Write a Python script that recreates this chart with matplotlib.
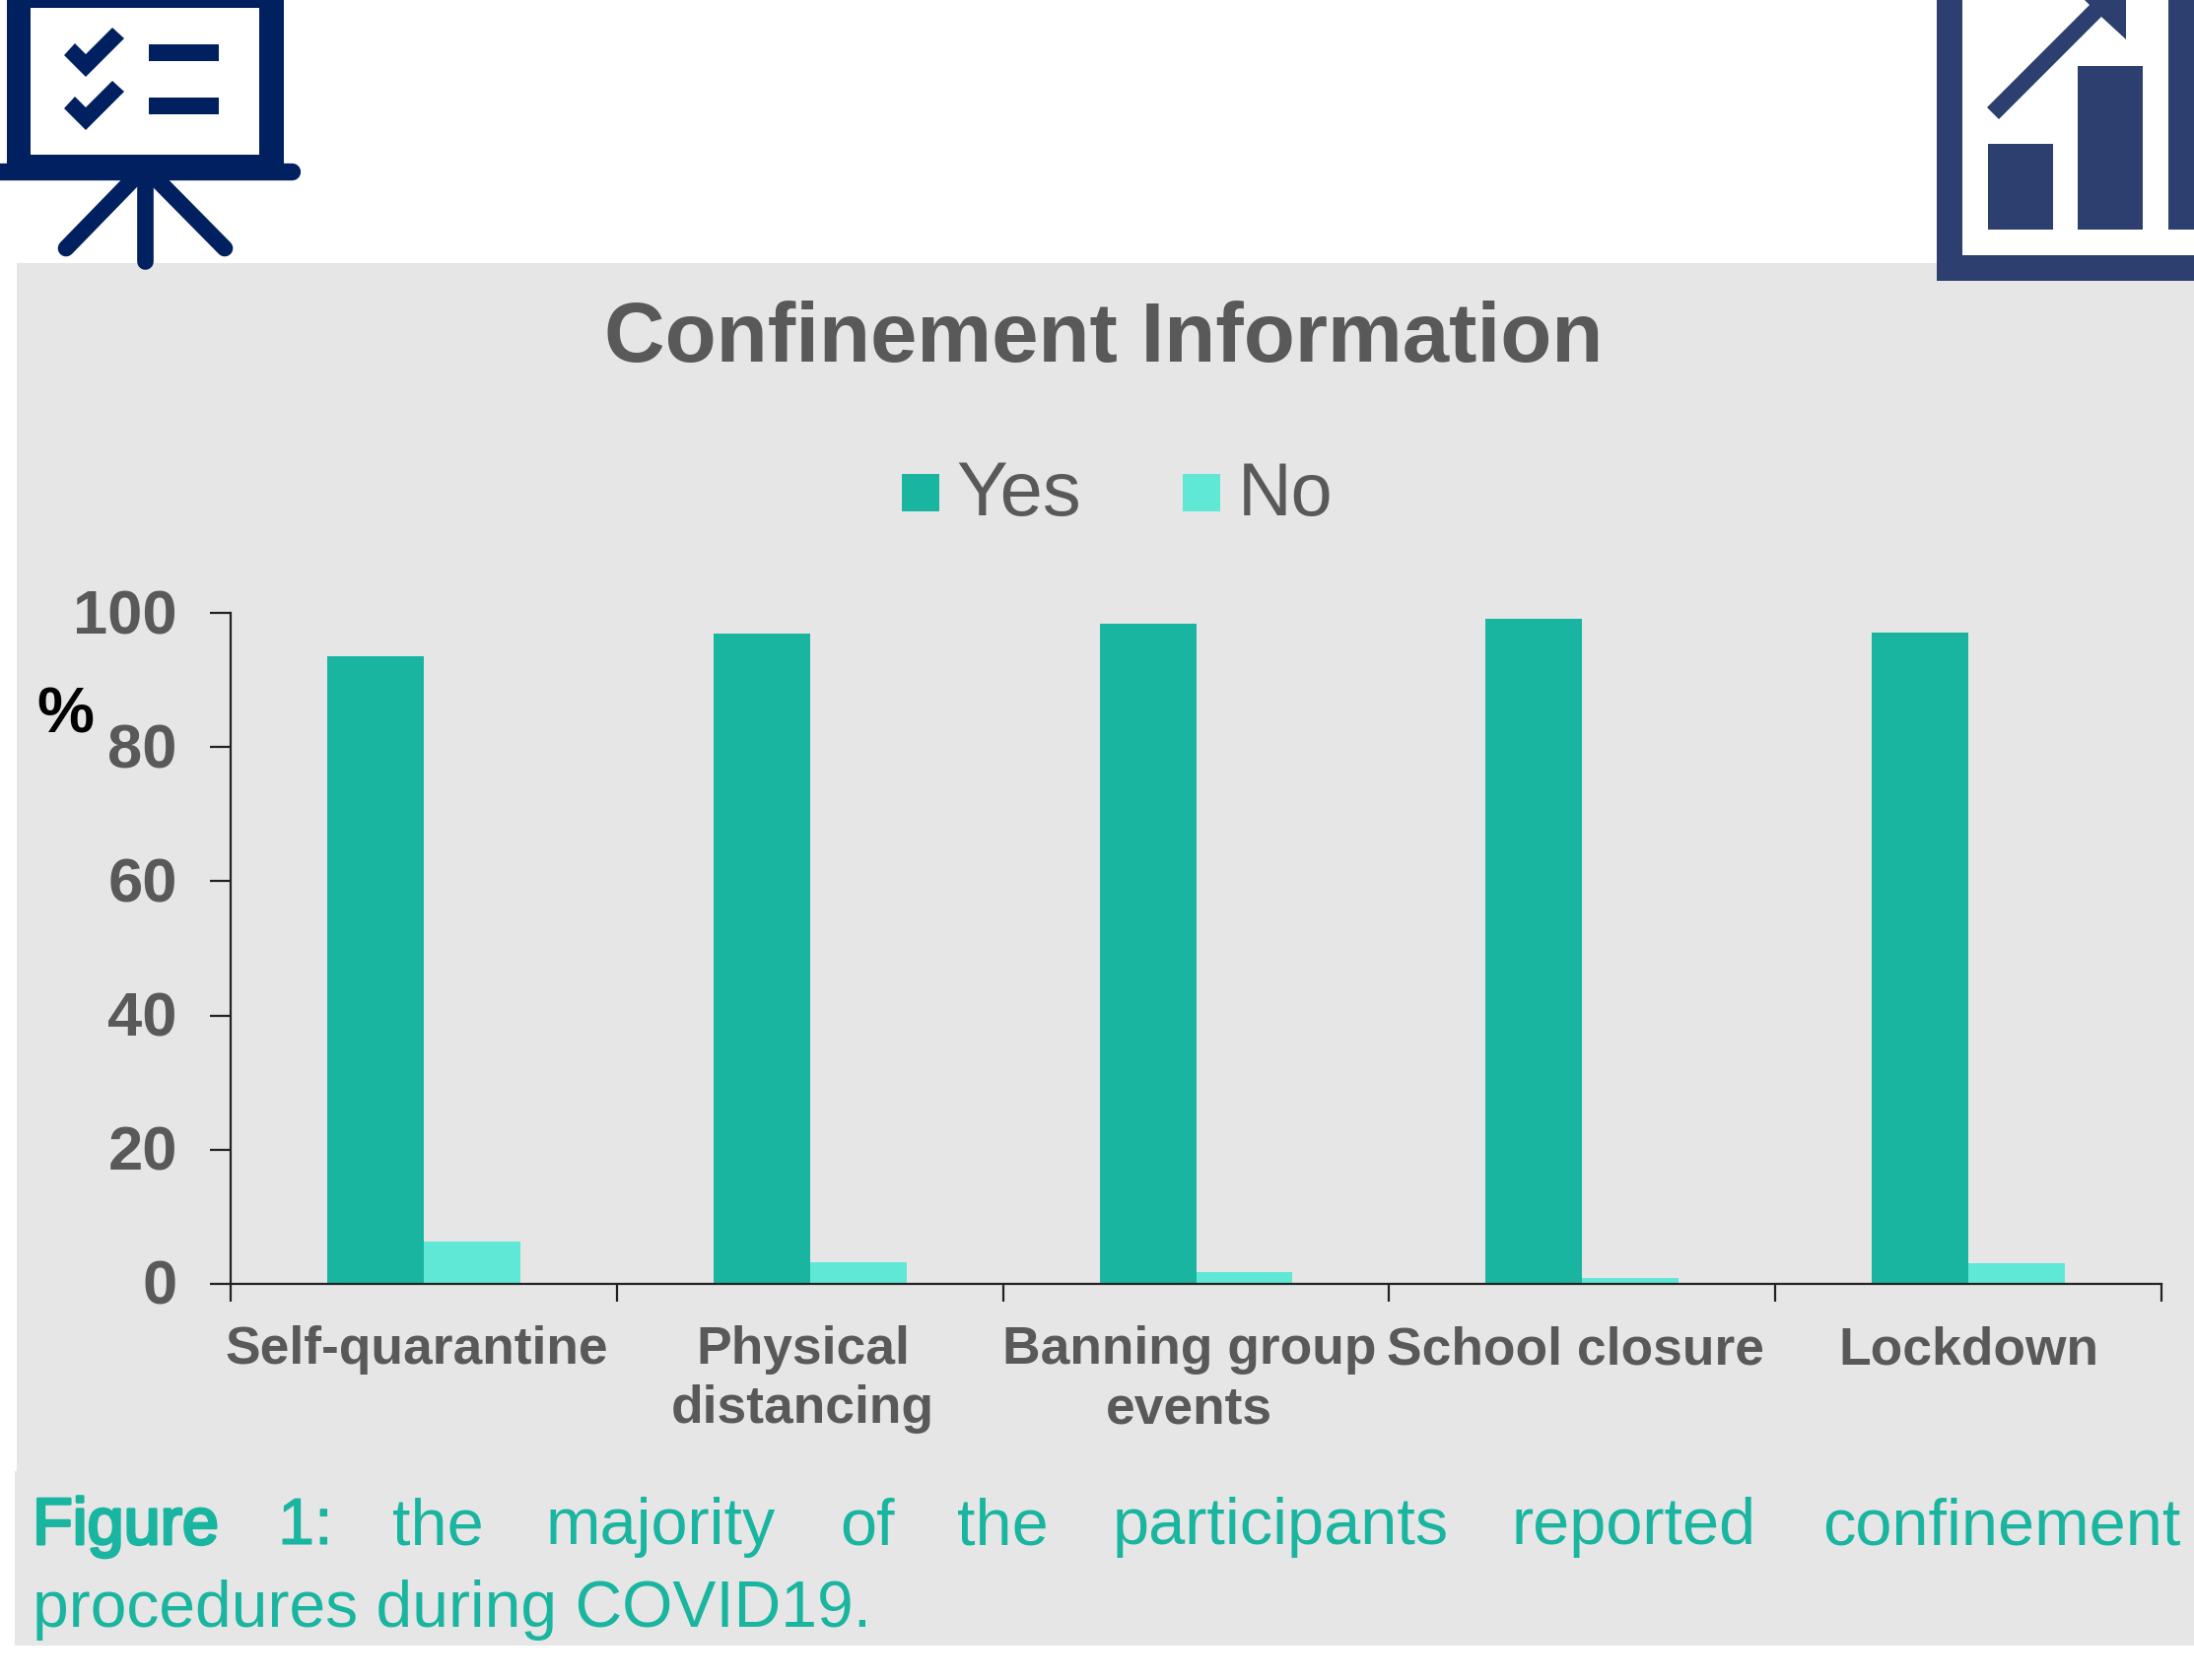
# Confinement Information bar chart with icons and caption
import numpy as np
import matplotlib
matplotlib.use('Agg')
import matplotlib.pyplot as plt
import matplotlib.patheffects as pe
from matplotlib.patches import Rectangle, Polygon
from matplotlib.transforms import ScaledTranslation

W, H = 2226, 1705

categories = ['Self-quarantine', 'Physical\ndistancing', 'Banning group\nevents', 'School closure', 'Lockdown']
yes_values = [93.6, 96.9, 98.4, 99.1, 97.0]
no_values = [6.3, 3.2, 1.8, 0.9, 3.1]
y_ticks = [0, 20, 40, 60, 80, 100]
label_shift = [-0.018, -0.018, -0.018, -0.018, 0]

caption_line1 = ['Figure', '1:', 'the', 'majority', 'of', 'the', 'participants', 'reported', 'confinement']
caption_line2 = 'procedures during COVID19.'

GRAY = '#e6e6e6'
TEXT = '#595959'
YES_COL = '#1ab5a0'
NO_COL = '#5fe8d6'
NAVY = '#002060'
BLUE2 = '#2c3f6f'

plt.rcParams['font.family'] = ['Liberation Sans', 'DejaVu Sans']

fig = plt.figure(figsize=(W / 100, H / 100), dpi=100, facecolor='white')

# overlay in pixel coordinates, for panels and icons
bg = fig.add_axes([0, 0, 1, 1], zorder=0)
bg.set_xlim(0, W)
bg.set_ylim(H, 0)
bg.axis('off')
bg.add_patch(Rectangle((17, 267), W - 17, 1230, fc=GRAY, ec='none'))
bg.add_patch(Rectangle((15, 1493), W - 15, 177, fc=GRAY, ec='none'))

# left icon: board with checks
bg.add_patch(Rectangle((7, -5), 281, 175, fc=NAVY, ec='none'))
bg.add_patch(Rectangle((31, 8), 232, 149, fc='white', ec='none'))
bg.plot([-10, 296], [174, 174], color=NAVY, lw=12.5, solid_capstyle='round')
bg.plot([147, 147], [175, 265], color=NAVY, lw=12, solid_capstyle='round')
bg.plot([137, 67], [180, 252], color=NAVY, lw=12, solid_capstyle='round')
bg.plot([157, 228], [180, 252], color=NAVY, lw=12, solid_capstyle='round')
for dy in [0, 54]:
    bg.add_patch(Polygon([(65, 56 + dy), (76, 44 + dy), (87, 55 + dy), (114, 28 + dy), (126, 39 + dy), (87, 78 + dy)],
                         fc=NAVY, ec='none'))
    bg.add_patch(Rectangle((151, 45 + dy), 71, 17, fc=NAVY, ec='none'))

# right icon: rising bars
bg.add_patch(Rectangle((1965, -5), W - 1965 + 5, 290, fc=BLUE2, ec='none'))
bg.add_patch(Rectangle((1991, -5), W - 1991 + 5, 264, fc='white', ec='none'))
bg.add_patch(Rectangle((2017, 146), 66, 87, fc=BLUE2, ec='none'))
bg.add_patch(Rectangle((2108, 67), 66, 166, fc=BLUE2, ec='none'))
bg.add_patch(Rectangle((2200, -5), 30, 238, fc=BLUE2, ec='none'))
bg.add_patch(Polygon([(2016, 109), (2120, 5), (2115, 0), (2157, 0), (2157, 40), (2132, 17), (2028, 121)], fc=BLUE2, ec='none'))

# main chart
ax_left, ax_right = 234, 2193
ax_top, ax_bottom = 622, 1303
ax = fig.add_axes([ax_left / W, 1 - ax_bottom / H, (ax_right - ax_left) / W, (ax_bottom - ax_top) / H], zorder=1)
ax.patch.set_alpha(0)

x = np.arange(len(categories)) + 0.5
bars1 = ax.bar(x - 0.125, yes_values, 0.25, color=YES_COL, label='Yes')
bars2 = ax.bar(x + 0.125, no_values, 0.25, color=NO_COL, label='No')

ax.set_xlim(0, len(categories))
ax.set_ylim(0, 100)
ax.set_yticks(y_ticks)
ax.set_xticks(np.arange(len(categories) + 1))
ax.set_xticklabels([])
ax.tick_params(axis='y', length=15, width=1.6, color='#222222', labelsize=45.5, labelcolor=TEXT, pad=24)
ax.tick_params(axis='x', length=13, width=1.6, color='#222222')
for lab in ax.get_yticklabels():
    lab.set_fontweight('bold')
    lab.set_transform(lab.get_transform() + ScaledTranslation(0, 2 / 100, fig.dpi_scale_trans))
for s in ['top', 'right']:
    ax.spines[s].set_visible(False)
ax.spines['left'].set_linewidth(1.6)
ax.spines['bottom'].set_linewidth(1.6)
ax.spines['left'].set_color('#222222')
ax.spines['bottom'].set_color('#222222')

for i, cat in enumerate(categories):
    ax.text(x[i] + label_shift[i], -6.2, cat, ha='center', va='top', fontsize=38.4, fontweight='bold',
            color=TEXT, linespacing=1.26)

# title, legend, % marker
bg.text(1120, 345, 'Confinement Information', ha='center', va='center', fontsize=61.4, fontweight='bold', color=TEXT)
bg.add_patch(Rectangle((915, 481), 38, 38, fc=YES_COL, ec='none'))
bg.add_patch(Rectangle((1200, 481), 38, 38, fc=NO_COL, ec='none'))
bg.text(970, 503, 'Yes', ha='left', va='center', fontsize=56, color=TEXT)
bg.text(1256, 503, 'No', ha='left', va='center', fontsize=54.5, color=TEXT)
bg.text(66, 727, '%', ha='center', va='center', fontsize=47, fontweight='bold', color='black')

# caption, first line justified word by word
word_x = [33, 282, 398, 554, 852, 971, 1129, 1533, 1849]
for i, word in enumerate(caption_line1):
    t = bg.text(word_x[i], 1567, word, ha='left', va='baseline', fontsize=48, color=YES_COL)
    if i == 0:
        # heading is only slightly heavier than the body text
        t.set_path_effects([pe.withStroke(linewidth=2.2, foreground=YES_COL)])
    elif i == 1:
        t.set_path_effects([pe.withStroke(linewidth=0.8, foreground=YES_COL)])
bg.text(33, 1651, caption_line2, ha='left', va='baseline', fontsize=47.5, color=YES_COL)

fig.savefig('out.png', dpi=100)
